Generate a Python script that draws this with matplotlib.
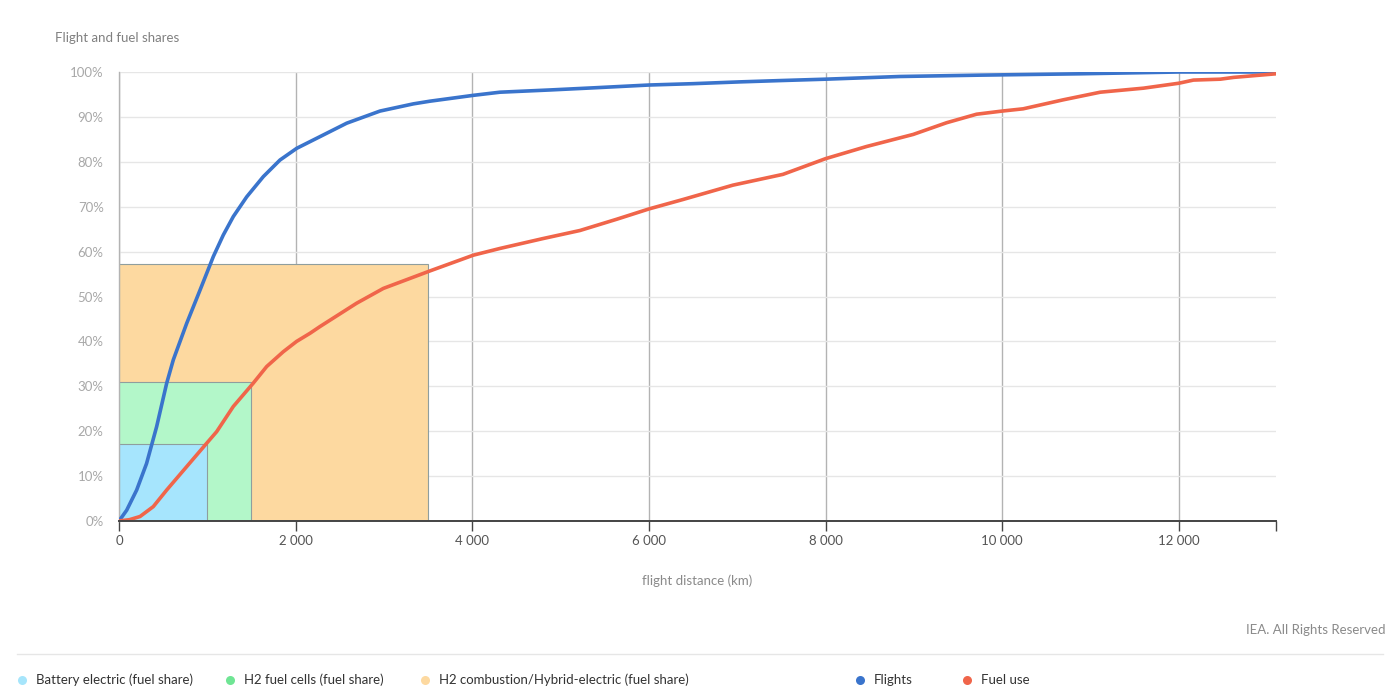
import matplotlib
matplotlib.use("Agg")
import matplotlib.pyplot as plt
from matplotlib.lines import Line2D
from matplotlib.ticker import FixedLocator, FuncFormatter

plt.rcParams['font.family'] = ['Lato', 'DejaVu Sans']

# ---------------- data ----------------
flights_km = [0, 87, 200, 312, 426, 540, 615, 766, 917, 1030, 1068, 1181, 1294, 1446,
              1634, 1823, 2012, 2275, 2578, 2955, 3332, 3521, 4011, 4313,
              4880, 5400, 6000, 6500, 7030, 7500, 8000, 8842, 9750, 10880, 12000, 13100]
flights_share = [0, 2.4, 6.9, 12.8, 21.0, 30.7, 35.9, 44.0, 51.4, 57.0, 58.9, 63.7, 67.8, 72.2,
                 76.7, 80.4, 83.0, 85.6, 88.6, 91.3, 92.9, 93.5, 94.8, 95.5,
                 96.0, 96.5, 97.1, 97.4, 97.8, 98.1, 98.4, 99.0, 99.3, 99.6, 100.0, 100.0]

fuel_km = [0, 120, 238, 388, 540, 766, 992, 1106, 1294, 1520, 1672, 1860, 2011, 2162, 2275,
           2690, 2993, 3521, 4011, 4313, 4800, 5219, 5634, 6000, 6385, 6951, 7517, 8000, 8463,
           8993, 9370, 9710, 10000, 10237, 10690, 11110, 11600, 12000, 12165, 12470, 12620, 13100]
fuel_share = [0, 0.3, 1.0, 3.2, 6.9, 12.1, 17.3, 19.9, 25.5, 30.7, 34.4, 37.7, 40.0, 41.8, 43.3,
              48.5, 51.8, 55.7, 59.2, 60.7, 62.9, 64.7, 67.2, 69.5, 71.6, 74.8, 77.2, 80.7, 83.4,
              86.1, 88.7, 90.6, 91.3, 91.8, 93.8, 95.5, 96.4, 97.5, 98.2, 98.4, 98.8, 99.6]

tech_names = ["H2 combustion/Hybrid-electric (fuel share)", "H2 fuel cells (fuel share)",
              "Battery electric (fuel share)"]
tech_range_km = [3500, 1500, 1000]
tech_fuel_share = [57.2, 31.0, 17.1]
tech_colors = ["#fdd9a0", "#b3f7c9", "#a6e5fd"]
tech_legend_colors = ["#fdd9a0", "#6fe594", "#a6e5fb"]

x_ticks = [0, 2000, 4000, 6000, 8000, 10000, 12000]
y_ticks = [0, 10, 20, 30, 40, 50, 60, 70, 80, 90, 100]
x_max = 13100

blue = "#3a74cc"
red = "#f0654a"

# ---------------- figure ----------------
W, H = 1400, 700
fig = plt.figure(figsize=(14, 7), dpi=100)
ax = fig.add_axes([119 / W, 1 - 521 / H, (1276 - 119) / W, (521 - 72) / H])

for name, rng, share, col in zip(tech_names, tech_range_km, tech_fuel_share, tech_colors):
    ax.bar(0, share, width=rng, align='edge', color=col, edgecolor="#8f9e9e",
           linewidth=0.8, zorder=2)

ax.plot(flights_km, flights_share, color=blue, lw=2.6, zorder=4, solid_capstyle='round',
        solid_joinstyle='round')
ax.plot(fuel_km, fuel_share, color=red, lw=2.6, zorder=4, solid_capstyle='round',
        solid_joinstyle='round')

ax.set_xlim(0, x_max)
ax.set_ylim(0, 100)

ax.set_axisbelow(True)
ax.yaxis.set_major_locator(FixedLocator(y_ticks))
ax.xaxis.set_major_locator(FixedLocator(x_ticks))
ax.xaxis.set_minor_locator(FixedLocator([x_max]))
ax.yaxis.set_major_formatter(FuncFormatter(lambda v, p: f"{int(v)}%"))
ax.xaxis.set_major_formatter(FuncFormatter(lambda v, p: f"{int(v):,}".replace(",", " ")))

ax.grid(axis='y', color="#e6e6e6", lw=1.0)
ax.grid(axis='x', which='major', color="#b3b3b3", lw=1.0)

for s in ['top', 'right']:
    ax.spines[s].set_visible(False)
ax.spines['left'].set_color("#b3b3b3")
ax.spines['left'].set_linewidth(1.0)
ax.spines['bottom'].set_color("#444444")
ax.spines['bottom'].set_linewidth(1.4)
ax.spines['bottom'].set_zorder(5)

ax.tick_params(axis='y', length=0, pad=11, labelsize=9.5, labelcolor="#a8a8a8")
ax.tick_params(axis='x', which='both', length=7, width=1, color="#444444",
               pad=3, labelsize=9.5, labelcolor="#555555")

ax.set_xlabel("flight distance (km)", fontsize=9.5, color="#8a8a8a", labelpad=20)

# title / credits
fig.text(55 / W, 1 - 38 / H, "Flight and fuel shares", fontsize=9.5, color="#808080",
         va='center', ha='left')
fig.text(1385 / W, 1 - 630 / H, "IEA. All Rights Reserved", fontsize=9.5, color="#8a8a8a",
         va='center', ha='right')
fig.add_artist(Line2D([17 / W, 1383 / W], [1 - 654 / H] * 2, color="#e6e6e6", lw=1.0))

# legend
legend_items = [
    (22, tech_names[2], tech_legend_colors[2]),
    (230, tech_names[1], tech_legend_colors[1]),
    (425, tech_names[0], tech_legend_colors[0]),
    (860, "Flights", blue),
    (967, "Fuel use", red),
]
ly = 1 - 680 / H
for xpx, label, col in legend_items:
    fig.add_artist(Line2D([xpx / W], [ly], marker='o', markersize=6.5, color=col,
                          markeredgewidth=0, linestyle='none'))
    fig.text((xpx + 14) / W, ly, label, fontsize=9.5, color="#333333", va='center', ha='left')

fig.savefig("out.png", dpi=100)
